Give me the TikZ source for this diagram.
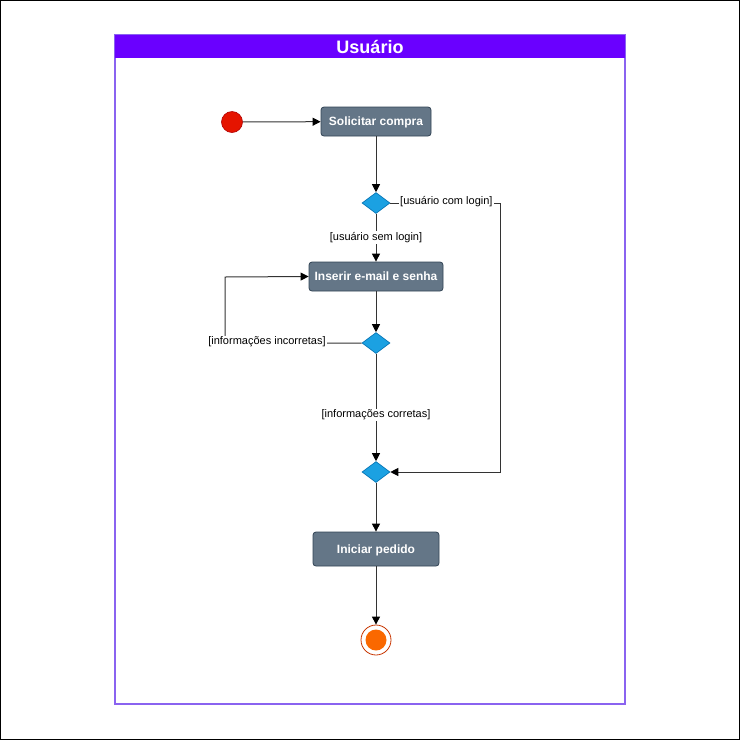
\documentclass[tikz,border=0pt]{standalone}
\usepackage{fontspec}
\setmainfont{Liberation Sans}
\usetikzlibrary{shapes.geometric,arrows.meta}
\definecolor{poolc}{HTML}{6A00FF}
\definecolor{poolline}{HTML}{8A63F0}
\definecolor{actfill}{HTML}{647687}
\definecolor{actline}{HTML}{314354}
\definecolor{decfill}{HTML}{1BA1E2}
\definecolor{decline}{HTML}{006EAF}
\definecolor{startc}{HTML}{E51400}
\definecolor{startline}{HTML}{B20000}
\definecolor{endc}{HTML}{FA6800}
\definecolor{endline}{HTML}{C73500}
\definecolor{edgec}{HTML}{333333}
\tikzset{
  x=1pt,y=-1pt,
  actbox/.style={draw=actline,fill=actfill,rounded corners=3pt,text=white,font=\bfseries\fontsize{12}{14}\selectfont,inner sep=0pt,line width=0.8pt,text height=8.6pt,text depth=0pt},
  decbox/.style={draw=decline,fill=decfill,diamond,inner sep=0pt,minimum width=28pt,minimum height=21pt,aspect=1.33,line width=0.6pt},
  flow/.style={draw=edgec,line width=1pt,-{Triangle[length=8pt,width=8pt,color=black]}},
  guard/.style={font=\fontsize{11}{13}\selectfont,fill=white,inner sep=1pt,text=black,text height=8pt,text depth=2.5pt},
}
\begin{document}
\begin{tikzpicture}
\useasboundingbox (0,0) rectangle (740,740);
\draw[black,line width=1.2pt] (0.6,0.6) rectangle (739.4,739.4);
% pool
\draw[poolline,line width=1.4pt] (115,35) rectangle (625,704);
\fill[poolc] (115,35) rectangle (625,58);
\node[text=white,font=\bfseries\fontsize{18}{21}\selectfont,text height=13pt,text depth=0pt,inner sep=0pt] (title) at (370,46.5) {Usuário};
% nodes
\node[circle,draw=startline,fill=startc,minimum size=21pt,inner sep=0pt,line width=0.6pt] (start) at (232,122) {};
\node[actbox,minimum width=110pt,minimum height=29pt] (solic) at (376,121.5) {Solicitar compra};
\node[decbox] (d1) at (376,203) {};
\node[actbox,minimum width=134pt,minimum height=29pt] (ins) at (376,276.5) {Inserir e-mail e senha};
\node[decbox] (d2) at (376,343) {};
\node[decbox] (d3) at (376,472) {};
\node[actbox,minimum width=126pt,minimum height=34pt] (ini) at (376,549) {Iniciar pedido};
\node[circle,draw=endline,fill=white,minimum size=30pt,inner sep=0pt,line width=0.8pt] (endo) at (376,640) {};
\node[circle,fill=endc,minimum size=21pt,inner sep=0pt] (endi) at (376,640) {};
\coordinate (c1) at (500,203);
\coordinate (c2) at (500,472);
\coordinate (c3) at (225,343);
\coordinate (c4) at (225,277);
% edges
\draw[flow] (start) -- (solic);
\draw[flow] (solic) -- (d1);
\draw[flow] (d1) -- node[guard,pos=0.5] {[usuário sem login]} (ins);
\draw[flow] (d1.east) -- (c1) -- (c2) -- (d3.east);
\node[guard,anchor=west] (g1) at (399,202) {[usuário com login]};
\draw[flow] (ins) -- (d2);
\draw[flow] (d2.west) -- (c3) -- (c4) -- (ins.west);
\node[guard] (g2) at (267,342) {[informações incorretas]};
\draw[flow] (d2) -- node[guard,pos=0.57] {[informações corretas]} (d3);
\draw[flow] (d3) -- (ini);
\draw[flow] (ini) -- (endo);
\end{tikzpicture}
\end{document}
